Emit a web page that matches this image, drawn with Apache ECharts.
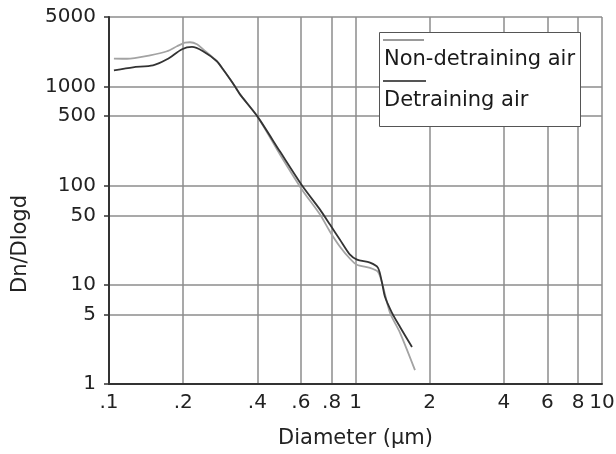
<!DOCTYPE html>
<html><head><meta charset="utf-8">
<script src="https://cdn.jsdelivr.net/npm/echarts@6/dist/echarts.min.js"></script>
<style>html,body{margin:0;padding:0;background:#fff}#c{width:616px;height:454px}</style>
</head><body><div id="c"></div>
<script>
// Diameter (µm) and Dn/Dlogd values
const nonDetrainingX = [0.1047,0.1183,0.1467,0.1719,0.1887,0.2034,0.2131,0.2275,0.2406,0.274,0.29,0.31,0.324,0.34,0.4,0.494,0.607,0.718,0.788,0.865,0.95,1.014,1.145,1.234,1.281,1.38,1.516,1.743];
const nonDetrainingY = [1905,1897,2056,2258,2535,2763,2783,2656,2364,1790,1485,1177,1000,830,498,206,91,51,34.3,24.2,18.3,15.9,14.8,13.5,10.5,5.22,3.28,1.38];
const detrainingX = [0.1047,0.1251,0.1508,0.1719,0.1978,0.2171,0.2406,0.274,0.29,0.31,0.324,0.34,0.4,0.494,0.607,0.718,0.788,0.865,0.95,1.014,1.145,1.234,1.281,1.317,1.406,1.516,1.695];
const detrainingY = [1452,1556,1630,1874,2364,2494,2258,1790,1485,1177,1000,830,498,220,100,57.2,40.4,28.5,20.1,17.9,16.7,14.8,10.5,7.56,5.22,3.76,2.36];
const xTicks = [0.1,0.2,0.4,0.6,0.8,1,2,4,6,8,10];
const yTicks = [1,5,10,50,100,500,1000,5000];
const seriesNames = ['Non-detraining air','Detraining air'];

const zip = (xs, ys) => xs.map((x,i)=>[x, ys[i]]);
const FONT = 'DejaVu Sans';
const chart = echarts.init(document.getElementById('c'), null, {renderer:'canvas'});
chart.setOption({
  animation:false,
  grid:{left:109, right:14, top:17, bottom:70, containLabel:false, outerBoundsMode:'none'},
  xAxis:{
    type:'log', logBase:10, min:0.1, max:10,
    name:'Diameter (µm)', nameLocation:'middle', nameGap:44,
    nameTextStyle:{fontFamily:FONT, fontSize:21, color:'#222'},
    axisLine:{show:true, lineStyle:{color:'#333', width:2}},
    axisTick:{show:false, customValues:xTicks},
    axisLabel:{customValues:xTicks, fontFamily:FONT, fontSize:20, color:'#222', margin:9,
      formatter:v=>{ const s=String(+v.toFixed(3)); return s.startsWith('0.')? s.slice(1): s; }},
    splitLine:{show:true, lineStyle:{color:'#8c8c8c', width:1.5}},
    minorSplitLine:{show:false}
  },
  yAxis:{
    type:'log', logBase:10, min:1, max:5000,
    axisLine:{show:true, lineStyle:{color:'#333', width:2}},
    axisTick:{show:true, customValues:yTicks, length:5, inside:false, lineStyle:{color:'#333', width:1.5}},
    axisLabel:{customValues:yTicks, fontFamily:FONT, fontSize:20, color:'#222', margin:13,
      formatter:v=>String(Math.round(v))},
    splitLine:{show:true, lineStyle:{color:'#8c8c8c', width:1.5}}
  },
  graphic:[
    {type:'rect', left:379, top:32, shape:{width:201, height:94}, style:{fill:'#fff', stroke:'#555', lineWidth:1}, z:100},
    {type:'line', shape:{x1:383, y1:40, x2:424, y2:40}, style:{stroke:'#9a9a9a', lineWidth:2}, z:101},
    {type:'text', left:384, top:49, style:{text:seriesNames[0], font:'21px "DejaVu Sans"', fill:'#1a1a1a'}, z:101},
    {type:'line', shape:{x1:383, y1:81, x2:426, y2:81}, style:{stroke:'#555', lineWidth:2}, z:101},
    {type:'text', left:384, top:90, style:{text:seriesNames[1], font:'21px "DejaVu Sans"', fill:'#1a1a1a'}, z:101},
    {type:'text', x:21, y:244, rotation:Math.PI/2, style:{text:'Dn/Dlogd', font:'21px "DejaVu Sans"', fill:'#222', align:'center', verticalAlign:'middle'}, z:101}
  ],
  series:[
    {name:seriesNames[0], type:'line', data:zip(nonDetrainingX, nonDetrainingY), showSymbol:false, smooth:0.25,
      lineStyle:{color:'#a3a3a3', width:1.8}, z:3},
    {name:seriesNames[1], type:'line', data:zip(detrainingX, detrainingY), showSymbol:false, smooth:0.25,
      lineStyle:{color:'#333', width:1.8}, z:4}
  ]
});
</script></body></html>
